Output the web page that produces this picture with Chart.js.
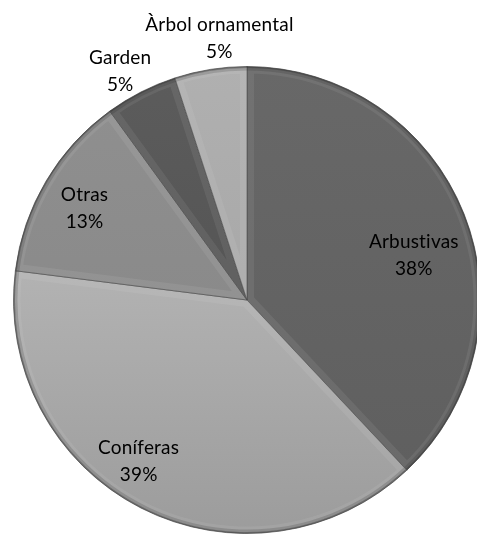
<!DOCTYPE html>
<html>
<head>
<meta charset="utf-8">
<script src="https://cdn.jsdelivr.net/npm/chart.js@4"></script>
<style>
  html, body { margin: 0; padding: 0; background: #fff; overflow: hidden; }
  #wrap { width: 494px; height: 535px; }
</style>
</head>
<body>
<div id="wrap"><canvas id="pieChart" width="494" height="535"></canvas></div>
<script>
const categories = ["Arbustivas", "Coníferas", "Otras", "Garden", "Àrbol ornamental"];
const shares = [38, 39, 13, 5, 5];

// fill tones, light and dark end of each slice gradient
const lightTones = ["#686868", "#c4c4c4", "#909090", "#5c5c5c", "#b0b0b0"];
const darkTones = ["#5e5e5e", "#9c9c9c", "#848484", "#4e4e4e", "#a0a0a0"];

// where each label sits: fraction of the radius and a small angle shift (deg)
const labelRadius = [0.74, 0.83, 0.80, 1.12, 1.13];
const labelShift = [6.5, 7, -1, -2, 3];

function sliceFill(ctx) {
  const chart = ctx.chart;
  const area = chart.chartArea;
  if (!area) return lightTones[ctx.dataIndex];
  const g = chart.ctx.createLinearGradient(0, area.top, 0, area.bottom);
  g.addColorStop(0, lightTones[ctx.dataIndex]);
  g.addColorStop(1, darkTones[ctx.dataIndex]);
  return g;
}

// soft bevel along each slice edge
const bevelPlugin = {
  id: "bevel",
  afterDatasetDraw(chart) {
    const c = chart.ctx;
    chart.getDatasetMeta(0).data.forEach(arc => {
      const p = arc.getProps(["x", "y", "startAngle", "endAngle", "outerRadius"], true);
      c.save();
      c.beginPath();
      c.moveTo(p.x, p.y);
      c.arc(p.x, p.y, p.outerRadius, p.startAngle, p.endAngle);
      c.closePath();
      c.clip();
      c.lineJoin = "round";
      c.strokeStyle = "rgba(255,255,255,0.07)";
      c.lineWidth = 14;
      c.stroke();
      c.beginPath();
      c.arc(p.x, p.y, p.outerRadius, p.startAngle, p.endAngle);
      c.strokeStyle = "rgba(40,40,40,0.18)";
      c.lineWidth = 8;
      c.stroke();
      c.strokeStyle = "rgba(40,40,40,0.35)";
      c.lineWidth = 3;
      c.stroke();
      c.restore();
    });
  }
};

// category name and percentage for every slice
const labelPlugin = {
  id: "sliceLabels",
  afterDraw(chart) {
    const c = chart.ctx;
    const total = shares.reduce((a, b) => a + b, 0);
    c.save();
    c.font = "19px Lato, 'Open Sans', sans-serif";
    c.letterSpacing = "0.2px"; // keeps "ti" from joining into a ligature
    c.fillStyle = "#000";
    c.textAlign = "center";
    c.textBaseline = "middle";
    chart.getDatasetMeta(0).data.forEach((arc, i) => {
      const p = arc.getProps(["x", "y", "startAngle", "endAngle", "outerRadius"], true);
      const mid = (p.startAngle + p.endAngle) / 2 + labelShift[i] * Math.PI / 180;
      const r = p.outerRadius * labelRadius[i];
      const x = p.x + Math.cos(mid) * r;
      const y = p.y + Math.sin(mid) * r;
      const pct = Math.round(shares[i] / total * 100) + "%";
      c.fillText(categories[i], x, y - 13);
      c.fillText(pct, x, y + 14);
    });
    c.restore();
  }
};

new Chart(document.getElementById("pieChart"), {
  type: "pie",
  data: {
    labels: categories,
    datasets: [{
      data: shares,
      backgroundColor: sliceFill,
      borderColor: "rgba(60,60,60,0.6)",
      borderWidth: 1
    }]
  },
  options: {
    responsive: false,
    animation: false,
    layout: { padding: { top: 66, bottom: 1, left: 13, right: 13 } },
    plugins: {
      legend: { display: false },
      tooltip: { enabled: false }
    }
  },
  plugins: [bevelPlugin, labelPlugin]
});
</script>
</body>
</html>
